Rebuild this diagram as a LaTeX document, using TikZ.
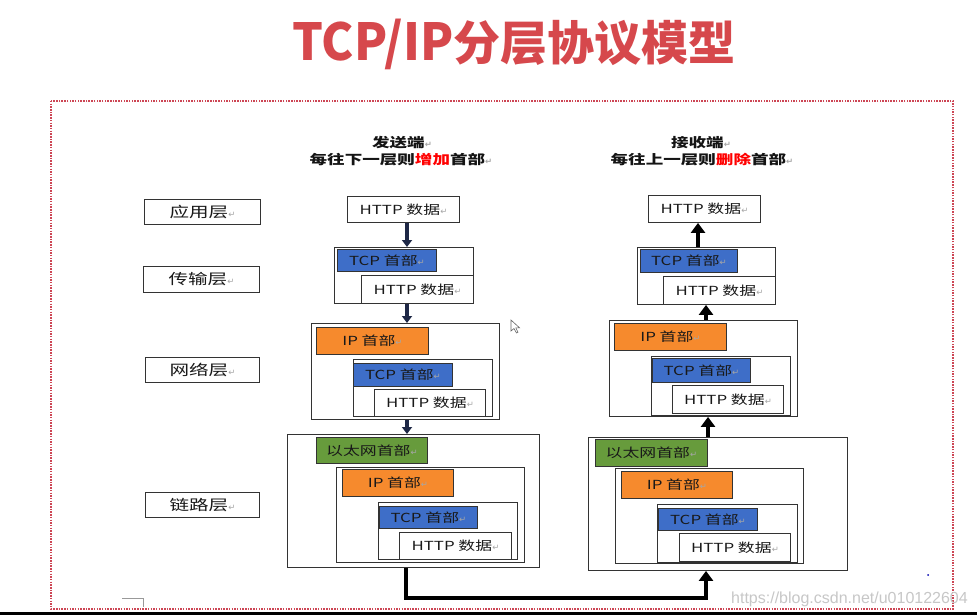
\documentclass[tikz,border=0pt]{standalone}
\usepackage{fontspec}
\setmainfont{Noto Sans CJK SC}[FakeStretch=1.35]
\newfontfamily\titlecjk{Noto Sans CJK SC}
\newfontfamily\titlelat{Noto Sans CJK SC}[FakeStretch=0.95]
\newfontfamily\symfont{DejaVu Sans}
\newfontfamily\wmfont{Liberation Sans}
\usetikzlibrary{arrows.meta}
\definecolor{tred}{RGB}{214,72,76}
\definecolor{framered}{RGB}{205,70,85}
\definecolor{tcpblue}{RGB}{62,110,200}
\definecolor{iporange}{RGB}{246,138,45}
\definecolor{ethgreen}{RGB}{103,155,60}
\definecolor{navyarrow}{RGB}{30,40,70}
\newcommand\rt{{\symfont\color{black!35}\fontsize{8.5}{8.5}\selectfont ↵}}
\newcommand\bx[7]{\node[#1, minimum width=#5pt, minimum height=#6pt] (#2) at (#3,#4) {#7};}
\tikzset{
  box/.style={draw=black!80, line width=0.9pt, fill=white, inner sep=0pt, anchor=north west,
    text=black!90, font=\fontsize{12.5}{14}\selectfont},
  tcpbox/.style={box, fill=tcpblue},
  ipbox/.style={box, fill=iporange},
  ethbox/.style={box, fill=ethgreen},
  layerbox/.style={box, font=\fontsize{14.5}{16}\selectfont},
  sarr/.style={draw=navyarrow, line width=4pt, -{Triangle[width=10pt,length=7pt]}},
  rarr/.style={draw=black, line width=4.5pt, -{Triangle[width=14pt,length=10pt]}},
  headtxt/.style={inner sep=0pt, font=\fontsize{13}{15}\selectfont\bfseries, text=black!92}
}
\begin{document}
\begin{tikzpicture}[x=1pt,y=-1pt]
\useasboundingbox (0,0) rectangle (977,615);
\fill[white] (0,0) rectangle (977,615);
% title
\node[inner sep=0pt, text=tred] (title) at (514,44)
  {{\titlelat\bfseries\fontsize{51}{51}\selectfont TCP/IP}{\titlecjk\bfseries\fontsize{47}{47}\selectfont 分层协议模型}};
% dotted frame
\draw[framered, line width=1.6pt, dash pattern=on 1.5pt off 1.2pt] (51,101) rectangle (953,609);
% bottom bar
\fill[black] (0,611.5) rectangle (977,615);
% headings
\node[headtxt] (hs1) at (402,143) {发送端\rt};
\node[headtxt] (hs2) at (401,160) {每往下一层则{\color{red}增加}首部\rt};
\node[headtxt] (hr1) at (701,143) {接收端\rt};
\node[headtxt] (hr2) at (702,160) {每往上一层则{\color{red}删除}首部\rt};
% layer labels
\bx{layerbox}{L1}{144}{199}{116}{25}{应用层\rt}
\bx{layerbox}{L2}{143}{266}{116}{26}{传输层\rt}
\bx{layerbox}{L3}{145}{357}{114}{25}{网络层\rt}
\bx{layerbox}{L4}{145}{492}{114}{25}{链路层\rt}
% sender
\bx{box}{s1}{347}{196}{112}{26}{HTTP 数据\rt}
\bx{box}{s2}{334}{247}{139}{56}{}
\bx{tcpbox}{s2h}{337}{249}{99}{22}{TCP 首部\rt}
\bx{box}{s2d}{361}{275}{112}{28}{HTTP 数据\rt}
\bx{box}{s3}{311}{323}{188}{96}{}
\bx{ipbox}{s3h}{316}{327}{112}{27}{IP 首部\rt}
\bx{box}{s3i}{353}{359}{139}{57}{}
\bx{tcpbox}{s3t}{353}{363}{99}{23}{TCP 首部\rt}
\bx{box}{s3d}{374}{389}{111}{27}{HTTP 数据\rt}
\bx{box}{s4}{287}{434}{252}{133}{}
\bx{ethbox}{s4e}{316}{437}{111}{26}{以太网首部\rt}
\bx{box}{s4i}{336}{467}{188}{95}{}
\bx{ipbox}{s4h}{342}{469}{111}{27}{IP 首部\rt}
\bx{box}{s4j}{378}{502}{139}{57}{}
\bx{tcpbox}{s4t}{379}{506}{98}{22}{TCP 首部\rt}
\bx{box}{s4d}{399}{532}{112}{27}{HTTP 数据\rt}
% receiver
\bx{box}{r1}{648}{195}{112}{27}{HTTP 数据\rt}
\bx{box}{r2}{637}{247}{138}{57}{}
\bx{tcpbox}{r2h}{640}{249}{97}{23}{TCP 首部\rt}
\bx{box}{r2d}{663}{276}{112}{28}{HTTP 数据\rt}
\bx{box}{r3}{609}{320}{188}{96}{}
\bx{ipbox}{r3h}{614}{323}{112}{27}{IP 首部\rt}
\bx{box}{r3i}{651}{356}{139}{59}{}
\bx{tcpbox}{r3t}{652}{358}{98}{24}{TCP 首部\rt}
\bx{box}{r3d}{672}{385}{111}{28}{HTTP 数据\rt}
\bx{box}{r4}{588}{437}{259}{133}{}
\bx{ethbox}{r4e}{595}{439}{112}{27}{以太网首部\rt}
\bx{box}{r4i}{615}{468}{188}{95}{}
\bx{ipbox}{r4h}{621}{471}{111}{27}{IP 首部\rt}
\bx{box}{r4j}{657}{504}{140}{58}{}
\bx{tcpbox}{r4t}{658}{508}{99}{22}{TCP 首部\rt}
\bx{box}{r4d}{679}{533}{111}{28}{HTTP 数据\rt}
% arrow columns
\coordinate (xs) at (407,0);
\coordinate (xr1) at (698,0);
\coordinate (xr2) at (706,0);
\coordinate (xr3) at (708,0);
\coordinate (xb) at (406,0);
\coordinate (yb) at (0,598);
\coordinate (xr4) at (706,0);
% sender arrows
\draw[sarr] (s1.south -| xs) -- (s2.north -| xs);
\draw[sarr] (s2.south -| xs) -- (s3.north -| xs);
\draw[sarr] (s3.south -| xs) -- (s4.north -| xs);
% receiver arrows
\draw[rarr] (r2.north -| xr1) -- (r1.south -| xr1);
\draw[rarr] (r3.north -| xr2) -- (r2.south -| xr2);
\draw[rarr] (r4.north -| xr3) -- (r3.south -| xr3);
% link
\draw[rarr] (s4.south -| xb) -- (xb |- yb) -| (r4.south -| xr4);
% small marks
\draw[black!40, line width=0.8pt] (122,598) -- (143,598) -- (143,607);
\fill[blue!70!black] (928,575) circle (1pt);
\draw[black!60, fill=white, line width=0.6pt] (511,320) -- (511,331) -- (514,328.5) -- (516.5,333) -- (518,332.2) -- (515.8,327.8) -- (519.5,327.8) -- cycle;
% watermark
\node[inner sep=0pt, anchor=east, text=black!22, font=\wmfont\fontsize{16}{16}\selectfont] (wm) at (968,599) {https://blog.csdn.net/u010122604};
\end{tikzpicture}
\end{document}
